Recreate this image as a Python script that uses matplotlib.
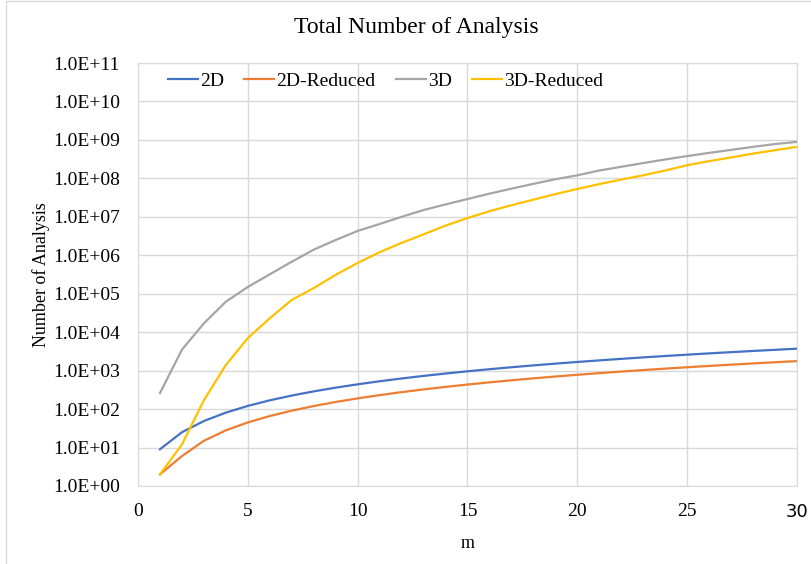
import math

import matplotlib
matplotlib.use('Agg')
import matplotlib.pyplot as plt
from matplotlib.patches import Rectangle
from matplotlib.ticker import FixedLocator, FuncFormatter

m = list(range(1, 31))

d2 = [9, 25, 49, 81, 121, 169, 225, 289, 361, 441, 529, 625, 729, 841, 961,
      1089, 1225, 1369, 1521, 1681, 1849, 2025, 2209, 2401, 2601, 2809, 3025, 3249, 3481, 3721]
d2_reduced = [2, 6, 15, 28, 45, 66, 91, 120, 153, 190, 231, 276, 325, 378, 435,
              496, 561, 630, 703, 780, 861, 946, 1035, 1128, 1225, 1326, 1431, 1540, 1653, 1770]
d3 = [2.6e2, 3.5e3, 1.7e4, 6.2e4, 1.5e5, 3.2e5, 6.8e5, 1.4e6, 2.5e6, 4.3e6,
      6.5e6, 1.0e7, 1.5e7, 2.1e7, 2.9e7, 4.0e7, 5.4e7, 7.2e7, 9.5e7, 1.2e8,
      1.6e8, 2.0e8, 2.5e8, 3.1e8, 3.8e8, 4.6e8, 5.5e8, 6.6e8, 7.8e8, 8.9e8]
d3_reduced = [2, 12, 1.7e2, 1.4e3, 7.0e3, 2.3e4, 6.9e4, 1.4e5, 3.1e5, 6.3e5,
              1.2e6, 2.1e6, 3.5e6, 5.9e6, 9.3e6, 1.4e7, 2.0e7, 2.8e7, 3.9e7, 5.3e7,
              7.1e7, 9.3e7, 1.2e8, 1.6e8, 2.2e8, 2.8e8, 3.5e8, 4.4e8, 5.4e8, 6.6e8]

series = [('2D', d2, '#4472C4'), ('2D-Reduced', d2_reduced, '#ED7D31'),
          ('3D', d3, '#A5A5A5'), ('3D-Reduced', d3_reduced, '#FFC000')]

plt.rcParams['font.family'] = ['Liberation Serif', 'DejaVu Serif']
GRID = '#d9d9d9'

fig = plt.figure(figsize=(8.12, 5.64), dpi=100)
fig.patches.append(Rectangle((6 / 812, -0.1), 1.2, 1.1 - 1 / 564, transform=fig.transFigure,
                             fill=False, edgecolor=GRID, linewidth=1))
ax = fig.add_axes([138 / 812, 1 - 486 / 564, 659 / 812, 423 / 564])

for name, vals, color in series:
    ax.plot(m, vals, color=color, linewidth=1.6, label=name)

ax.set_yscale('log')
ax.set_ylim(1, 1e11)
ax.set_xlim(0, 30)
ax.yaxis.set_major_locator(FixedLocator([10.0 ** k for k in range(12)]))
ax.yaxis.set_minor_locator(FixedLocator([]))
ax.yaxis.set_major_formatter(FuncFormatter(lambda v, _: '1.0E+%02d' % round(math.log10(v))))
ax.set_xticks(range(0, 31, 5))
ax.grid(True, color=GRID, linewidth=1)
ax.set_axisbelow(True)
for s in ax.spines.values():
    s.set_color(GRID)
ax.tick_params(length=0, labelsize=14, pad=13)
ax.tick_params(axis='x', pad=12)
ax.get_xticklabels()[-1].set_family('DejaVu Sans')
ax.get_xticklabels()[-1].set_fontsize(13)

ax.set_xlabel('m', fontsize=13, labelpad=10)
ax.set_ylabel('Number of Analysis', fontsize=13, labelpad=2)
fig.text(0.513, 1 - 28 / 564, 'Total Number of Analysis', fontsize=17, ha='center', va='center')

ax.legend(loc='center left', bbox_to_anchor=(0.045, 0.957), ncol=4, frameon=False,
          fontsize=14, handlelength=1.55, handletextpad=0.1, columnspacing=1.05,
          borderaxespad=0, borderpad=0)

fig.savefig('out.png', dpi=100)
